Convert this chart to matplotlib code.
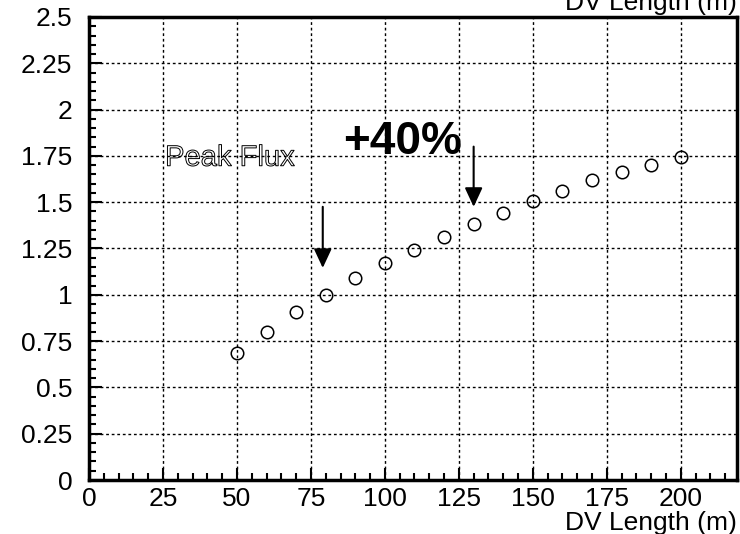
import matplotlib.pyplot as plt
import matplotlib.patheffects as pe
from matplotlib.ticker import MultipleLocator

plt.rcParams['font.family'] = ['Liberation Sans', 'DejaVu Sans']

# DV length (m) and relative peak flux
dv_length = [50, 60, 70, 80, 90, 100, 110, 120, 130, 140, 150, 160, 170, 180, 190, 200]
peak_flux = [0.685, 0.80, 0.905, 1.0, 1.09, 1.17, 1.242, 1.313, 1.38, 1.44, 1.505, 1.56, 1.618, 1.663, 1.703, 1.742]

x_ticks = [0, 25, 50, 75, 100, 125, 150, 175, 200]
y_ticks = [0, 0.25, 0.5, 0.75, 1, 1.25, 1.5, 1.75, 2, 2.25, 2.5]
y_ticklabels = ['0', '0.25', '0.5', '0.75', '1', '1.25', '1.5', '1.75', '2', '2.25', '2.5']

# arrows: (x, y_start, y_end)
arrows = [(79, 1.475, 1.145), (130, 1.80, 1.475)]

fig = plt.figure(figsize=(7.4, 5.34), dpi=100)
ax = fig.add_axes([0.1203, 0.1011, 0.8756, 0.8671])

ax.plot(dv_length, peak_flux, 'o', ms=9, mfc='none', mec='black', mew=1.1, zorder=3)

ax.set_xlim(0, 219)
ax.set_ylim(0, 2.5)
ax.set_xticks(x_ticks)
ax.set_yticks(y_ticks)
ax.set_yticklabels(y_ticklabels)
ax.xaxis.set_minor_locator(MultipleLocator(5))
ax.yaxis.set_minor_locator(MultipleLocator(0.05))
ax.tick_params(which='both', direction='in', top=False, right=False, width=1.5, labelsize=19)
ax.tick_params(which='major', length=9)
ax.tick_params(which='minor', length=5)
ax.tick_params(axis='y', pad=12)
ax.tick_params(axis='x', pad=5)

ax.grid(True, which='major', color='black', linestyle=(0, (2, 2)), linewidth=1)
for s in ax.spines.values():
    s.set_linewidth(2.5)

for x, y0, y1 in arrows:
    ax.annotate('', xy=(x, y1), xytext=(x, y0),
                arrowprops=dict(arrowstyle='-|>,head_length=0.58,head_width=0.27',
                                mutation_scale=20, color='black', lw=1.5,
                                shrinkA=0, shrinkB=0))

ax.text(25.7, 1.74, 'Peak Flux', fontsize=21, color='none', va='center', ha='left',
        path_effects=[pe.Stroke(linewidth=0.7, foreground='black')])
ax.text(106, 1.825, '+40%', fontsize=33, fontweight='bold', va='center', ha='center')

fig.text(0.996, 0.008, 'DV Length (m)', fontsize=19, ha='right', va='baseline')
fig.text(0.996, 0.981, 'DV Length (m)', fontsize=19, ha='right', va='baseline')

fig.savefig('out.png', dpi=100)
